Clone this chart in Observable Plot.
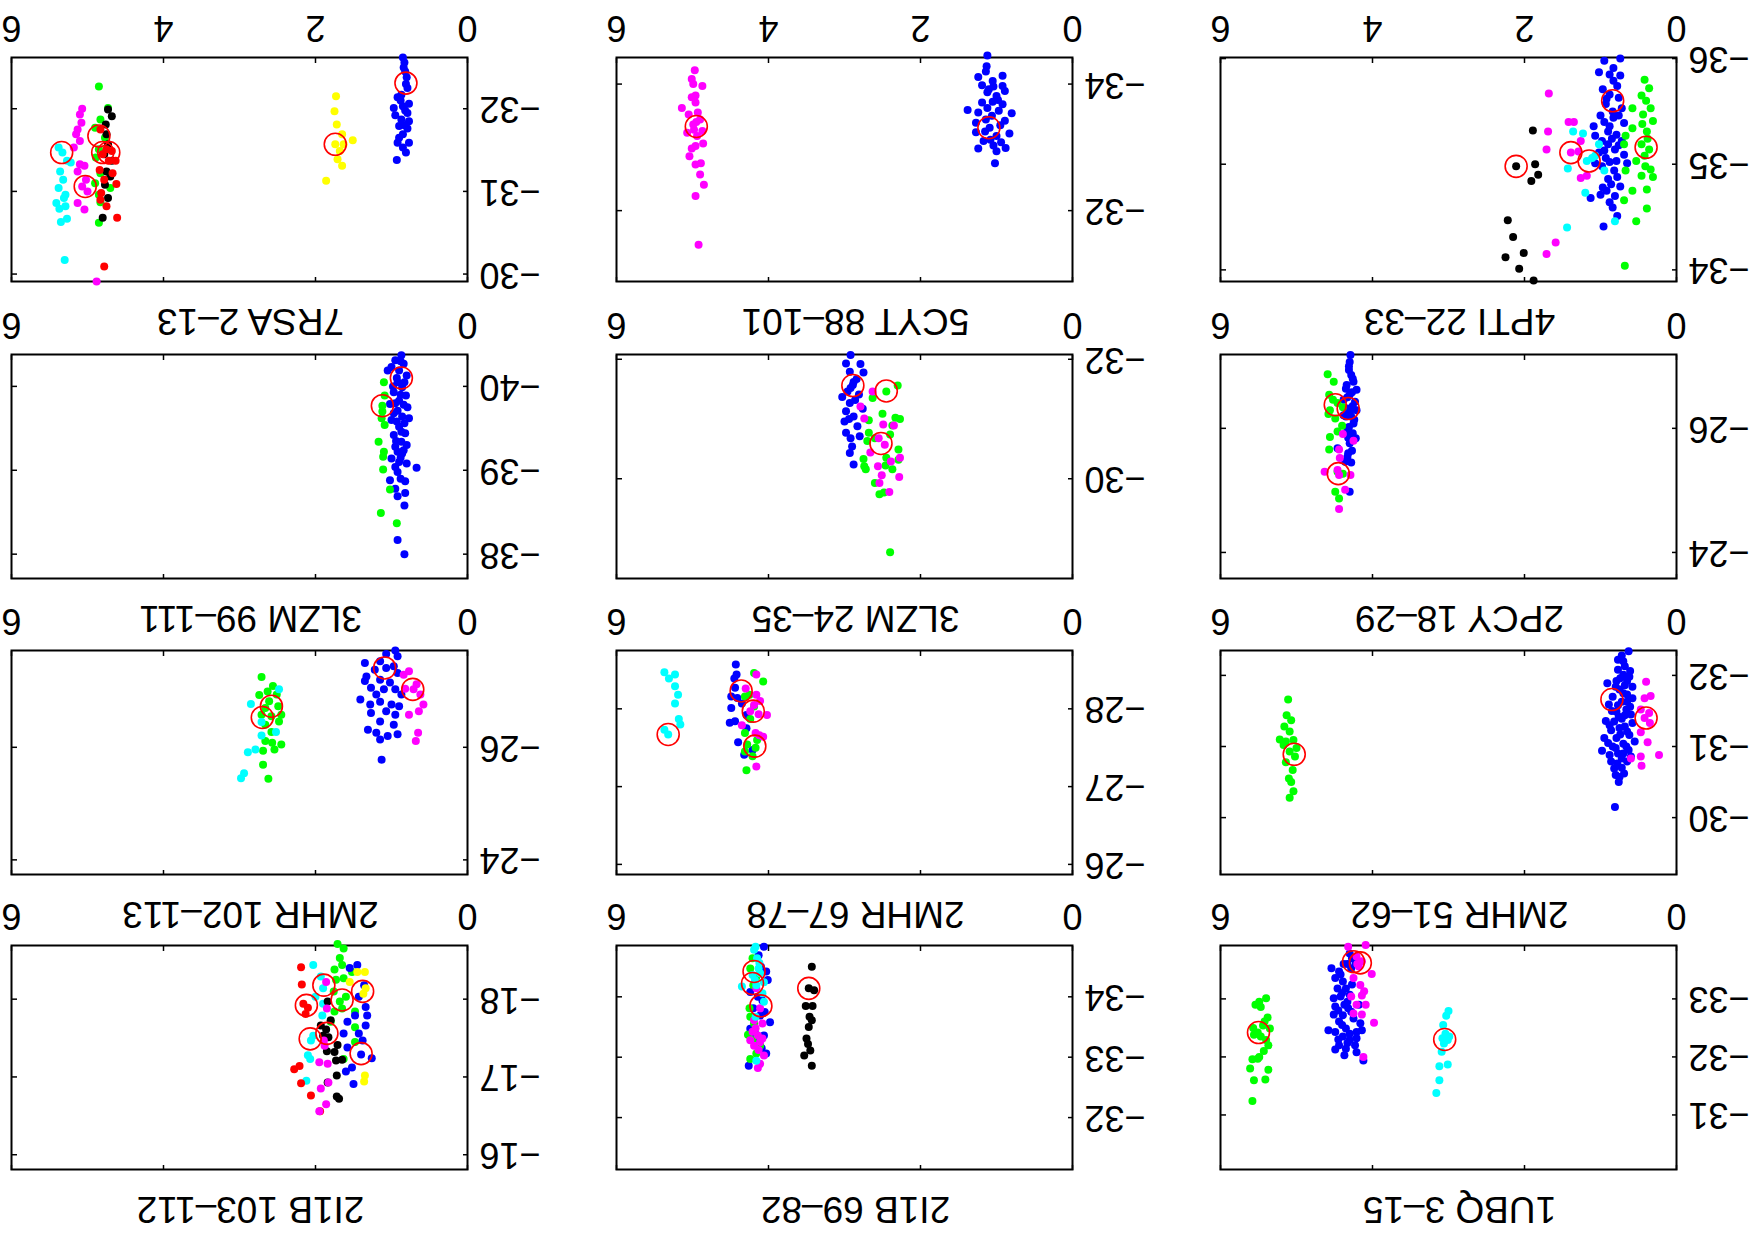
<!DOCTYPE html>
<html>
<head>
<meta charset="utf-8">
<script src="https://cdn.jsdelivr.net/npm/d3@7"></script>
<script src="https://cdn.jsdelivr.net/npm/@observablehq/plot@0.6"></script>
<style>
  html, body { margin: 0; padding: 0; background: #fff; overflow: hidden; }
  #chart { position: relative; width: 1756px; height: 1236px; transform: rotate(180deg); transform-origin: 50% 50%; background: #fff; }
  #chart svg { position: absolute; background: transparent; overflow: visible; }
</style>
</head>
<body>
<div id="chart"></div>
<script>
// ---------- data ----------
const titles = ["1UBQ 3–15", "2I1B 69–82", "2I1B 103–112",
                "2MHR 51–62", "2MHR 67–78", "2MHR 102–113",
                "2PCY 18–29", "3LZM 24–35", "3LZM 99–111",
                "4PTI 22–33", "5CYT 88–101", "7RSA 2–13"];
const yDomains = [[-33.92, -30.06], [-34.85, -31.14], [-18.69, -15.81],
                  [-32.35, -29.20], [-28.75, -25.87], [-27.72, -23.74],
                  [-27.19, -23.58], [-32.08, -28.33], [-40.38, -37.71],
                  [-36.01, -33.89], [-34.42, -30.88], [-32.62, -29.91]];
const yTicks = [[-33, -32, -31], [-34, -33, -32], [-18, -17, -16],
                [-32, -31, -30], [-28, -27, -26], [-26, -24],
                [-26, -24], [-32, -30], [-40, -39, -38],
                [-36, -35, -34], [-34, -32], [-32, -31, -30]];
const xTicksAll = [0, 2, 4, 6];
const xTicksEnds = [0, 6];
const palette = {blue: "#0000ff", green: "#00ff00", magenta: "#ff00ff", cyan: "#00ffff",
                 black: "#000000", red: "#ff0000", yellow: "#ffff00"};

// 1UBQ 3-15
const p1_blue = [[4.54,-33.53],[4.44,-33.47],[4.49,-33.36],[4.39,-33.30],[4.46,-33.18],[4.35,-33.18],[4.51,-33.01],[4.42,-33.04],[4.30,-33.07],[4.49,-32.87],[4.37,-32.90],[4.18,-32.90],[4.51,-32.73],[4.39,-32.72],[4.25,-32.66],[4.44,-32.61],[4.16,-32.58],[4.58,-32.46],[4.49,-32.43],[4.35,-32.49],[4.21,-32.43],[4.14,-32.46],[4.39,-32.35],[4.30,-32.29],[4.21,-32.32],[4.44,-32.20],[4.35,-32.14],[4.23,-32.20],[4.49,-32.13],[4.37,-32.03],[4.21,-32.08],[4.12,-31.94],[4.28,-33.53],[4.32,-32.84],[4.42,-33.42],[4.27,-33.70],[4.22,-33.62],[4.30,-33.78],[4.33,-33.60],[4.40,-33.10],[4.33,-32.95],[4.45,-32.80],[4.28,-32.78],[4.40,-32.55],[4.30,-32.40],[4.45,-32.30],[4.33,-32.24],[4.27,-33.25],[4.38,-33.60]];
const p1_magenta = [[4.32,-33.90],[4.09,-33.93],[4.21,-33.73],[4.14,-33.65],[4.01,-33.43],[4.25,-33.36],[4.16,-33.24],[4.11,-33.13],[4.28,-33.04],[4.14,-33.06],[4.21,-32.90],[4.09,-32.90],[4.25,-32.75],[4.14,-32.73],[3.98,-32.59],[4.12,-32.00],[4.18,-33.56],[4.20,-33.60]];
const p1_green = [[5.40,-33.01],[5.49,-32.95],[5.54,-32.90],[5.47,-32.86],[5.38,-32.68],[5.42,-32.61],[5.57,-32.50],[5.44,-32.54],[5.35,-32.49],[5.51,-32.42],[5.56,-32.38],[5.47,-32.35],[5.40,-32.29],[5.37,-32.20],[5.43,-32.10],[5.49,-32.00],[5.58,-31.96],[5.51,-31.97],[5.61,-31.80],[5.37,-31.78],[5.56,-31.60],[5.41,-31.61],[5.58,-31.24]];
const p1_cyan = [[3.00,-32.79],[3.03,-32.71],[3.07,-32.55],[3.04,-32.40],[3.08,-32.32],[3.01,-32.29],[3.06,-32.23],[2.99,-32.35],[3.09,-32.09],[3.01,-31.87],[3.12,-31.84],[3.12,-31.60],[3.16,-31.38]];
const p1_circles = [[5.50,-32.42],[4.25,-33.64],[4.16,-33.62],[3.05,-32.30]];

// 2I1B 69-82
const p2_blue = [[4.06,-34.83],[4.13,-34.69],[4.03,-34.42],[4.01,-34.28],[4.24,-34.08],[4.08,-33.94],[3.98,-33.58],[4.11,-33.69],[4.24,-33.47],[4.06,-33.36],[4.03,-33.06],[4.26,-32.86],[4.16,-33.25],[4.20,-33.81],[4.10,-34.50],[4.14,-34.00],[4.05,-33.75],[4.18,-33.40],[4.09,-33.15]];
const p2_green = [[4.21,-34.64],[4.24,-34.47],[4.16,-34.33],[4.20,-34.19],[4.25,-33.81],[4.24,-33.67],[4.19,-33.56],[4.27,-33.37],[4.21,-33.28],[4.11,-33.19],[4.24,-32.97],[4.16,-33.06]];
const p2_magenta = [[4.16,-34.14],[4.11,-33.81],[4.19,-33.61],[4.08,-33.56],[4.21,-33.42],[4.14,-33.36],[4.24,-33.28],[4.11,-33.25],[4.19,-33.19],[4.06,-33.03],[4.14,-32.82],[4.11,-32.89],[4.08,-33.31],[4.17,-33.48],[4.13,-33.12]];
const p2_cyan = [[4.17,-34.83],[4.19,-34.78],[4.15,-34.64],[4.12,-34.56],[4.21,-34.36],[4.35,-34.17],[4.16,-34.19],[4.08,-34.06],[4.06,-33.92],[4.17,-33.67],[4.11,-34.39],[4.06,-34.24],[4.16,-32.94],[4.13,-34.47],[4.18,-34.28]];
const p2_black = [[3.43,-34.50],[3.47,-34.14],[3.40,-34.11],[3.51,-33.85],[3.42,-33.85],[3.46,-33.67],[3.43,-33.61],[3.47,-33.50],[3.50,-33.31],[3.48,-33.22],[3.45,-33.11],[3.53,-33.03],[3.43,-32.86]];
const p2_circles = [[4.19,-34.42],[4.21,-34.22],[4.10,-33.85],[3.47,-34.14]];

// 2I1B 103-112
const p3_green = [[1.71,-18.71],[1.63,-18.65],[1.68,-18.53],[1.75,-18.38],[1.65,-18.44],[1.73,-18.25],[1.63,-18.27],[1.76,-18.10],[1.60,-18.03],[1.68,-17.97],[1.75,-17.84],[1.65,-17.88],[1.48,-17.84],[1.80,-17.71],[1.48,-17.64],[1.48,-17.45],[1.63,-17.23],[1.52,-18.35]];
const p3_blue = [[1.45,-18.44],[1.55,-18.40],[1.36,-18.18],[1.43,-18.03],[1.34,-17.90],[1.32,-17.79],[1.48,-17.79],[1.58,-17.71],[1.34,-17.66],[1.43,-17.56],[1.63,-17.56],[1.38,-17.47],[1.58,-17.38],[1.40,-17.29],[1.26,-17.24],[1.52,-17.12],[1.60,-17.07],[1.50,-16.91]];
const p3_yellow = [[1.35,-18.35],[1.45,-18.35],[1.55,-18.22],[1.34,-18.14],[1.37,-18.07],[1.35,-17.02],[1.36,-16.94]];
const p3_cyan = [[2.03,-18.44],[1.93,-18.29],[1.90,-18.14],[2.00,-18.03],[1.90,-17.94],[1.91,-17.79],[2.03,-17.53],[2.06,-17.47],[2.10,-17.28],[2.07,-17.23],[2.12,-16.95]];
const p3_red = [[2.19,-18.41],[2.18,-18.19],[2.16,-17.94],[2.10,-17.89],[2.13,-17.81],[2.28,-17.10],[2.21,-17.14],[2.19,-16.92],[2.06,-16.76],[1.94,-16.56]];
const p3_black = [[1.84,-17.97],[1.80,-17.73],[1.93,-17.66],[1.86,-17.61],[1.90,-17.53],[1.83,-17.51],[1.71,-17.41],[1.85,-17.33],[1.75,-17.32],[1.73,-17.21],[1.65,-17.22],[1.72,-17.02],[1.84,-16.93],[1.72,-16.75],[1.69,-16.72]];
const p3_magenta = [[1.86,-18.22],[1.85,-17.88],[1.89,-17.47],[1.88,-17.40],[1.95,-17.19],[1.84,-17.17],[1.83,-16.93],[1.93,-16.85],[1.86,-16.65],[1.95,-16.56]];
const p3_circles = [[1.89,-18.18],[2.12,-17.92],[1.65,-17.99],[1.38,-18.10],[2.07,-17.49],[1.85,-17.56],[1.40,-17.30]];

// 2MHR 51-62
const p4_green = [[5.11,-31.66],[5.13,-31.44],[5.07,-31.37],[5.16,-31.28],[5.09,-31.21],[5.22,-31.10],[5.14,-31.07],[5.04,-31.09],[5.00,-30.98],[5.09,-30.93],[5.02,-30.86],[5.14,-30.78],[5.05,-30.67],[5.10,-30.55],[5.07,-30.50],[5.04,-30.37],[5.09,-30.28],[5.17,-31.02]];
const p4_blue = [[0.63,-32.34],[0.72,-32.28],[0.77,-32.22],[0.68,-32.13],[0.77,-32.08],[0.61,-32.06],[0.70,-32.01],[0.91,-31.89],[0.79,-31.92],[0.65,-31.92],[0.58,-31.84],[0.75,-31.80],[0.65,-31.73],[0.84,-31.70],[0.72,-31.63],[0.89,-31.59],[0.61,-31.56],[0.79,-31.49],[0.68,-31.44],[0.93,-31.36],[0.82,-31.35],[0.58,-31.33],[0.75,-31.26],[0.86,-31.23],[0.65,-31.21],[0.95,-31.12],[0.79,-31.12],[0.55,-31.07],[0.70,-31.04],[0.84,-31.00],[0.98,-30.94],[0.63,-30.95],[0.77,-30.90],[0.72,-30.83],[0.86,-30.79],[0.65,-30.79],[0.82,-30.69],[0.72,-30.70],[0.75,-30.57],[0.81,-30.15],[0.65,-31.63],[0.72,-31.39],[0.70,-32.20],[0.62,-31.98],[0.74,-31.96],[0.68,-31.86],[0.80,-31.84],[0.58,-31.68],[0.70,-31.75],[0.77,-31.58],[0.66,-31.52],[0.85,-31.50],[0.60,-31.45],[0.76,-31.42],[0.88,-31.30],[0.68,-31.28],[0.62,-31.16],[0.74,-31.17],[0.90,-31.05],[0.66,-31.00],[0.80,-30.98],[0.70,-30.90],[0.88,-30.88],[0.60,-30.86],[0.78,-30.76],[0.69,-30.62],[0.80,-30.60],[0.76,-30.50]];
const p4_magenta = [[0.40,-31.91],[0.34,-31.71],[0.42,-31.68],[0.47,-31.52],[0.36,-31.47],[0.42,-31.40],[0.35,-31.33],[0.47,-31.20],[0.38,-31.06],[0.23,-30.88],[0.60,-30.83],[0.47,-30.86],[0.46,-30.73]];
const p4_circles = [[5.03,-30.89],[0.85,-31.66],[0.40,-31.40]];

// 2MHR 67-78
const p5_cyan = [[5.37,-28.47],[5.31,-28.39],[5.23,-28.44],[5.23,-28.29],[5.19,-28.18],[5.23,-28.07],[5.18,-27.87],[5.16,-27.80],[5.37,-27.73],[5.32,-27.67]];
const p5_blue = [[4.43,-28.57],[4.42,-28.44],[4.45,-28.39],[4.44,-28.27],[4.49,-28.16],[4.41,-28.14],[4.49,-28.01],[4.35,-28.07],[4.29,-27.92],[4.51,-27.82],[4.44,-27.84],[4.29,-27.75],[4.40,-27.57],[4.32,-27.41],[4.21,-27.47]];
const p5_green = [[4.19,-28.46],[4.07,-28.35],[4.31,-28.16],[4.25,-28.18],[4.19,-28.03],[4.24,-27.87],[4.31,-27.69],[4.15,-27.60],[4.28,-27.54],[4.17,-27.50],[4.31,-27.45],[4.21,-27.39],[4.29,-27.21]];
const p5_magenta = [[4.16,-28.44],[4.30,-28.26],[4.16,-28.18],[4.11,-28.10],[4.19,-28.05],[4.24,-27.97],[4.13,-27.93],[4.02,-27.92],[4.35,-27.79],[4.17,-27.69],[4.12,-27.66],[4.07,-27.64],[4.16,-27.26]];
const p5_circles = [[5.32,-27.67],[4.36,-28.23],[4.20,-27.97],[4.18,-27.52]];

// 2MHR 102-113
const p6_green = [[2.71,-27.25],[2.56,-27.09],[2.63,-26.99],[2.74,-26.93],[2.51,-26.94],[2.61,-26.82],[2.49,-26.73],[2.66,-26.70],[2.71,-26.58],[2.45,-26.58],[2.58,-26.55],[2.48,-26.46],[2.66,-26.40],[2.58,-26.27],[2.66,-26.11],[2.45,-26.05],[2.57,-26.08],[2.54,-25.96],[2.69,-25.94],[2.69,-25.69],[2.62,-25.44]];
const p6_cyan = [[2.48,-27.03],[2.85,-26.77],[2.71,-26.45],[2.52,-26.27],[2.71,-26.21],[2.79,-25.96],[2.89,-25.91],[2.94,-25.54],[2.98,-25.45]];
const p6_blue = [[0.95,-27.72],[1.07,-27.66],[0.92,-27.62],[1.35,-27.50],[1.15,-27.53],[0.97,-27.44],[1.22,-27.38],[1.07,-27.41],[0.92,-27.32],[1.33,-27.26],[1.15,-27.20],[1.35,-27.18],[1.02,-27.15],[1.27,-27.06],[1.10,-27.03],[0.95,-27.03],[1.20,-26.94],[0.87,-26.94],[1.41,-26.85],[1.15,-26.81],[1.28,-26.76],[1.00,-26.76],[0.90,-26.73],[1.27,-26.61],[1.07,-26.64],[0.95,-26.58],[1.15,-26.46],[0.97,-26.40],[1.31,-26.31],[1.20,-26.26],[1.15,-26.14],[1.05,-26.20],[0.92,-26.23],[1.13,-25.78]];
const p6_magenta = [[0.84,-27.29],[0.77,-27.35],[0.67,-27.12],[0.82,-27.04],[0.71,-27.03],[0.62,-26.94],[0.58,-26.76],[0.64,-26.64],[0.77,-26.58],[0.65,-26.26],[0.68,-26.11]];
const p6_circles = [[2.58,-26.73],[2.70,-26.53],[1.09,-27.41],[0.72,-27.03]];

// 2PCY 18-29
const p7_blue = [[4.29,-27.18],[4.30,-27.07],[4.31,-26.94],[4.28,-26.86],[4.25,-26.75],[4.35,-26.64],[4.21,-26.62],[4.30,-26.54],[4.38,-26.46],[4.23,-26.43],[4.33,-26.32],[4.21,-26.29],[4.28,-26.19],[4.38,-26.21],[4.25,-26.08],[4.33,-25.97],[4.22,-25.84],[4.30,-25.76],[4.46,-25.68],[4.33,-25.54],[4.30,-24.98],[4.35,-26.19],[4.31,-27.00],[4.26,-26.80],[4.34,-26.70],[4.27,-26.58],[4.33,-26.50],[4.26,-26.36],[4.30,-26.26],[4.24,-26.14],[4.31,-26.02],[4.26,-25.92],[4.32,-25.85],[4.27,-25.64],[4.32,-25.60],[4.28,-25.45],[4.36,-25.46]];
const p7_green = [[4.59,-26.87],[4.51,-26.75],[4.57,-26.54],[4.52,-26.46],[4.46,-26.41],[4.39,-26.34],[4.56,-26.29],[4.58,-26.23],[4.49,-26.16],[4.40,-26.04],[4.46,-25.95],[4.56,-25.86],[4.57,-25.66],[4.46,-25.30],[4.39,-25.27],[4.49,-24.98],[4.44,-24.87]];
const p7_magenta = [[4.39,-25.91],[4.25,-25.80],[4.44,-25.66],[4.43,-25.52],[4.63,-25.30],[4.46,-25.33],[4.44,-25.25],[4.29,-25.25],[4.36,-25.01],[4.44,-24.70]];
const p7_circles = [[4.32,-26.32],[4.49,-26.38],[4.45,-25.27]];

// 3LZM 24-35
const p8_blue = [[2.92,-32.07],[2.98,-31.93],[2.79,-31.92],[2.93,-31.79],[2.75,-31.78],[2.84,-31.67],[2.89,-31.57],[2.96,-31.46],[3.03,-31.37],[2.81,-31.41],[2.93,-31.27],[2.76,-31.17],[2.98,-31.13],[2.88,-31.04],[3.00,-30.96],[2.83,-30.88],[2.98,-30.77],[2.80,-30.71],[2.92,-30.68],[2.90,-30.54],[2.93,-30.43],[2.88,-30.24],[2.88,-31.62],[2.92,-31.52],[2.86,-31.32],[2.94,-31.00]];
const p8_green = [[2.30,-31.56],[2.45,-31.46],[2.63,-31.35],[2.50,-31.09],[2.33,-31.02],[2.27,-31.00],[2.68,-30.98],[2.37,-30.89],[2.68,-30.77],[2.60,-30.68],[2.40,-30.74],[2.70,-30.63],[2.29,-30.49],[2.75,-30.33],[2.45,-30.35],[2.29,-30.32],[2.74,-30.21],[2.72,-30.16],[2.46,-30.22],[2.37,-30.16],[2.60,-29.93],[2.54,-29.74],[2.48,-29.77],[2.40,-28.77]];
const p8_magenta = [[2.63,-31.46],[2.79,-31.21],[2.74,-31.01],[2.49,-30.91],[2.35,-30.89],[2.55,-30.68],[2.47,-30.57],[2.66,-30.44],[2.27,-30.35],[2.39,-30.29],[2.56,-30.21],[2.51,-30.06],[2.28,-30.03],[2.54,-29.93],[2.41,-29.78]];
const p8_circles = [[2.89,-31.56],[2.45,-31.47],[2.52,-30.59]];

// 3LZM 99-111
const p9_blue = [[0.87,-40.37],[0.95,-40.31],[0.84,-40.27],[1.00,-40.23],[0.90,-40.19],[0.80,-40.13],[1.05,-40.19],[0.92,-40.05],[0.86,-39.99],[0.97,-39.93],[0.81,-39.89],[0.90,-39.83],[1.02,-39.79],[0.79,-39.75],[0.92,-39.71],[0.86,-39.64],[1.00,-39.60],[0.77,-39.62],[0.90,-39.52],[0.82,-39.44],[0.97,-39.42],[0.87,-39.34],[0.80,-39.30],[0.95,-39.28],[0.86,-39.20],[1.00,-39.14],[0.90,-39.10],[0.67,-39.03],[0.92,-38.98],[1.02,-38.88],[0.82,-38.87],[0.95,-38.78],[0.82,-38.73],[0.92,-38.69],[0.83,-38.58],[0.92,-38.17],[0.83,-38.00],[0.95,-39.04],[0.88,-40.30],[0.93,-40.10],[0.83,-40.05],[0.98,-40.00],[0.88,-39.90],[0.95,-39.80],[0.84,-39.78],[0.97,-39.68],[0.83,-39.56],[0.93,-39.58],[0.87,-39.46],[0.94,-39.35],[0.84,-39.24],[0.92,-39.22],[0.88,-39.15],[0.80,-39.08],[0.88,-38.90]];
const p9_green = [[1.10,-40.05],[1.09,-39.89],[1.12,-39.77],[1.12,-39.70],[1.13,-39.62],[1.09,-39.54],[1.17,-39.34],[1.10,-39.22],[1.11,-39.16],[1.11,-39.01],[1.02,-38.77],[1.14,-38.49],[0.93,-38.37]];
const p9_circles = [[0.87,-40.10],[1.12,-39.77]];

// 4PTI 22-33
const p10_blue = [[0.74,-36.00],[0.95,-35.98],[0.83,-35.91],[1.02,-35.87],[0.74,-35.84],[0.83,-35.79],[0.97,-35.71],[0.88,-35.66],[0.76,-35.63],[0.93,-35.57],[0.72,-35.53],[1.00,-35.46],[0.83,-35.44],[0.69,-35.39],[1.09,-35.36],[0.90,-35.31],[0.79,-35.28],[1.07,-35.27],[0.72,-35.22],[0.90,-35.19],[0.81,-35.14],[1.02,-35.11],[0.69,-35.09],[0.93,-35.06],[1.07,-35.01],[0.79,-35.03],[0.65,-35.01],[0.82,-34.94],[0.97,-34.78],[0.86,-34.81],[0.74,-34.79],[1.00,-34.71],[0.81,-34.70],[1.13,-34.68],[0.84,-34.59],[0.78,-34.51],[0.96,-34.41],[0.88,-35.85],[0.78,-35.74],[0.92,-35.62],[0.84,-35.50],[0.95,-35.40],[0.76,-35.46],[0.88,-35.36],[0.98,-35.22],[0.85,-35.24],[0.95,-35.13],[0.76,-35.18],[0.88,-35.02],[0.98,-34.98],[0.90,-34.86],[0.78,-34.88],[0.92,-34.75],[0.88,-34.64]];
const p10_green = [[0.42,-35.80],[0.36,-35.72],[0.46,-35.65],[0.58,-35.53],[0.34,-35.53],[0.44,-35.47],[0.31,-35.41],[0.58,-35.34],[0.39,-35.31],[0.67,-35.27],[0.69,-35.19],[0.46,-35.19],[0.36,-35.14],[0.53,-35.03],[0.41,-34.98],[0.67,-34.94],[0.34,-34.95],[0.46,-34.89],[0.31,-34.88],[0.58,-34.75],[0.39,-34.76],[0.69,-34.66],[0.39,-34.58],[0.53,-34.46],[0.68,-34.04],[0.40,-35.60],[0.45,-35.38],[0.38,-35.24],[0.42,-35.08]];
const p10_magenta = [[1.68,-35.67],[1.42,-35.40],[1.35,-35.40],[1.69,-35.31],[1.26,-35.22],[1.71,-35.14],[1.39,-35.11],[1.29,-35.12],[1.18,-34.89],[1.26,-34.87],[1.59,-34.26],[1.71,-34.15]];
const p10_cyan = [[1.36,-35.31],[1.23,-35.29],[1.02,-35.19],[1.11,-35.06],[1.18,-35.03],[1.07,-35.08],[1.43,-34.96],[0.95,-34.94],[1.20,-34.73],[1.44,-34.40],[0.81,-34.46]];
const p10_black = [[1.89,-35.32],[1.86,-35.00],[1.82,-34.90],[1.91,-34.84],[2.11,-34.98],[2.22,-34.47],[2.15,-34.31],[2.01,-34.16],[2.25,-34.12],[2.07,-34.01],[1.88,-33.90]];
const p10_circles = [[0.84,-35.60],[0.40,-35.16],[1.39,-35.11],[1.15,-35.03],[2.11,-34.98]];

// 5CYT 88-101
const p11_blue = [[1.12,-34.45],[1.13,-34.28],[1.14,-34.20],[1.24,-34.11],[0.92,-34.13],[1.19,-33.98],[1.04,-33.96],[0.92,-33.97],[1.12,-33.87],[1.00,-33.81],[0.89,-33.89],[1.19,-33.71],[1.05,-33.72],[0.92,-33.68],[1.38,-33.59],[1.24,-33.55],[0.97,-33.58],[0.80,-33.54],[1.14,-33.44],[0.89,-33.42],[1.27,-33.39],[1.09,-33.31],[0.83,-33.22],[1.27,-33.24],[1.00,-33.18],[1.17,-33.10],[1.24,-32.98],[1.04,-33.03],[0.88,-32.99],[1.00,-32.94],[1.02,-32.75],[1.05,-34.05],[1.10,-33.92],[0.98,-33.75],[1.12,-33.62],[1.06,-33.50],[0.95,-33.35],[1.15,-33.25],[1.08,-33.12],[0.94,-33.08]];
const p11_magenta = [[4.97,-34.22],[5.01,-34.08],[4.87,-33.97],[4.99,-34.00],[4.96,-33.82],[5.01,-33.79],[4.96,-33.71],[5.14,-33.62],[5.05,-33.52],[4.90,-33.44],[4.99,-33.36],[5.07,-33.23],[4.87,-33.26],[4.94,-33.18],[4.86,-33.06],[5.01,-32.98],[4.96,-33.02],[5.04,-32.86],[4.96,-32.73],[4.89,-32.75],[4.90,-32.57],[4.85,-32.41],[4.96,-32.23],[4.92,-31.46],[4.95,-33.40],[4.98,-33.28],[4.93,-33.55]];
const p11_circles = [[1.10,-33.31],[4.95,-33.33]];

// 7RSA 2-13
const p12_blue = [[0.85,-32.62],[0.83,-32.56],[0.82,-32.45],[0.80,-32.38],[0.81,-32.30],[0.79,-32.25],[0.92,-32.14],[0.87,-32.17],[0.77,-32.06],[0.97,-32.01],[0.85,-32.03],[0.95,-31.92],[0.79,-31.95],[0.87,-31.87],[0.77,-31.85],[0.90,-31.79],[0.79,-31.76],[0.85,-31.69],[0.92,-31.59],[0.77,-31.59],[0.85,-31.53],[0.81,-31.47],[0.93,-31.38],[0.84,-32.50],[0.88,-32.10],[0.82,-31.98],[0.90,-31.65],[0.83,-31.80]];
const p12_yellow = [[1.73,-32.15],[1.75,-31.97],[1.72,-31.81],[1.65,-31.69],[1.51,-31.62],[1.74,-31.57],[1.63,-31.57],[1.68,-31.49],[1.71,-31.39],[1.65,-31.31],[1.86,-31.13]];
const p12_cyan = [[5.38,-31.53],[5.33,-31.47],[5.27,-31.37],[5.22,-31.35],[5.36,-31.24],[5.32,-31.14],[5.38,-31.04],[5.29,-30.96],[5.31,-30.92],[5.41,-30.86],[5.37,-30.79],[5.29,-30.82],[5.27,-30.67],[5.35,-30.63],[5.30,-30.17]];
const p12_magenta = [[5.07,-32.00],[5.10,-31.93],[5.08,-31.83],[5.13,-31.75],[5.15,-31.69],[5.10,-31.61],[5.18,-31.53],[5.10,-31.33],[5.04,-31.31],[5.13,-31.24],[5.02,-31.14],[5.07,-31.06],[5.00,-31.00],[5.13,-30.86],[5.04,-30.78],[4.88,-29.91]];
const p12_green = [[4.85,-32.27],[4.73,-32.01],[4.83,-31.87],[4.90,-31.77],[4.77,-31.65],[4.85,-31.51],[4.89,-31.41],[4.83,-31.22],[4.90,-31.10],[4.85,-30.96],[4.83,-30.87],[4.70,-31.04],[4.85,-30.62]];
const p12_black = [[4.73,-31.99],[4.68,-31.91],[4.76,-31.81],[4.75,-31.69],[4.73,-31.57],[4.78,-31.45],[4.68,-31.37],[4.75,-31.24],[4.70,-31.18],[4.77,-31.08],[4.73,-30.92],[4.80,-30.68]];
const p12_red = [[4.83,-31.75],[4.75,-31.51],[4.68,-31.49],[4.80,-31.45],[4.63,-31.37],[4.72,-31.37],[4.84,-31.26],[4.67,-31.22],[4.78,-31.14],[4.62,-31.09],[4.82,-30.98],[4.83,-30.90],[4.75,-30.82],[4.61,-30.68],[4.78,-30.09]];
const p12_circles = [[0.81,-32.31],[1.74,-31.57],[5.34,-31.47],[5.03,-31.06],[4.85,-31.67],[4.72,-31.47],[4.80,-31.47]];

// series per panel, in drawing order
const panelSeries = [
  [["blue", p1_blue], ["magenta", p1_magenta], ["green", p1_green], ["cyan", p1_cyan]],
  [["blue", p2_blue], ["green", p2_green], ["magenta", p2_magenta], ["cyan", p2_cyan], ["black", p2_black]],
  [["green", p3_green], ["blue", p3_blue], ["yellow", p3_yellow], ["cyan", p3_cyan], ["red", p3_red], ["black", p3_black], ["magenta", p3_magenta]],
  [["green", p4_green], ["blue", p4_blue], ["magenta", p4_magenta]],
  [["cyan", p5_cyan], ["blue", p5_blue], ["green", p5_green], ["magenta", p5_magenta]],
  [["green", p6_green], ["cyan", p6_cyan], ["blue", p6_blue], ["magenta", p6_magenta]],
  [["blue", p7_blue], ["green", p7_green], ["magenta", p7_magenta]],
  [["blue", p8_blue], ["green", p8_green], ["magenta", p8_magenta]],
  [["blue", p9_blue], ["green", p9_green]],
  [["blue", p10_blue], ["green", p10_green], ["magenta", p10_magenta], ["cyan", p10_cyan], ["black", p10_black]],
  [["blue", p11_blue], ["magenta", p11_magenta]],
  [["blue", p12_blue], ["yellow", p12_yellow], ["cyan", p12_cyan], ["magenta", p12_magenta], ["green", p12_green], ["black", p12_black], ["red", p12_red]]
];
const panelCircles = [p1_circles, p2_circles, p3_circles, p4_circles, p5_circles, p6_circles,
                      p7_circles, p8_circles, p9_circles, p10_circles, p11_circles, p12_circles];

// ---------- layout (un-rotated page; the whole page is turned 180°) ----------
const colLeft = [79, 683, 1288];
const rowTop = [66, 361, 657, 954];
const frameW = 456, frameH = 224;
const mLeft = 79, mRight = 10, mTop = 66, mBottom = 50;
const fontFamily = "'Liberation Sans', Arial, Helvetica, sans-serif";
const fmt = d => (d < 0 ? "\u2212" : "") + Math.abs(d);

const chart = document.getElementById("chart");
titles.forEach((title, i) => {
  const row = Math.floor(i / 3), col = i % 3;
  const bottomRow = row === 3;
  const marks = [
    Plot.frame({stroke: "black", strokeWidth: 2}),
    Plot.ruleX(xTicksAll, {x: d => d, insetBottom: frameH - 5, stroke: "black", strokeWidth: 1.5}),
    Plot.ruleX(xTicksAll, {x: d => d, insetTop: frameH - 5, stroke: "black", strokeWidth: 1.5}),
    Plot.ruleY(yTicks[i], {y: d => d, insetRight: frameW - 5, stroke: "black", strokeWidth: 1.5}),
    Plot.ruleY(yTicks[i], {y: d => d, insetLeft: frameW - 5, stroke: "black", strokeWidth: 1.5})
  ];
  for (const [c, pts] of panelSeries[i]) {
    marks.push(Plot.dot(pts, {x: d => d[0], y: d => d[1], r: 4, fill: palette[c], stroke: "none"}));
  }
  marks.push(Plot.dot(panelCircles[i], {x: d => d[0], y: d => d[1], r: 11, fill: "none", stroke: palette.red, strokeWidth: 1.6}));
  marks.push(Plot.text([title], {text: d => d, frameAnchor: "top", dx: -11, dy: -54, fontSize: 37, fill: "black"}));

  const svg = Plot.plot({
    width: mLeft + frameW + mRight,
    height: mTop + frameH + mBottom,
    marginLeft: mLeft, marginRight: mRight, marginTop: mTop, marginBottom: mBottom,
    style: {background: "transparent", overflow: "visible", fontSize: "36px", fontFamily, color: "black"},
    x: {domain: [0, 6], ticks: bottomRow ? xTicksAll : xTicksEnds, tickSize: 0, tickPadding: 16, tickFormat: fmt, label: null},
    y: {domain: yDomains[i], ticks: yTicks[i], tickSize: 0, tickPadding: 12, tickFormat: fmt, label: null},
    marks
  });
  svg.style.left = (colLeft[col] - mLeft) + "px";
  svg.style.top = (rowTop[row] - mTop) + "px";
  chart.appendChild(svg);
});
</script>
</body>
</html>
